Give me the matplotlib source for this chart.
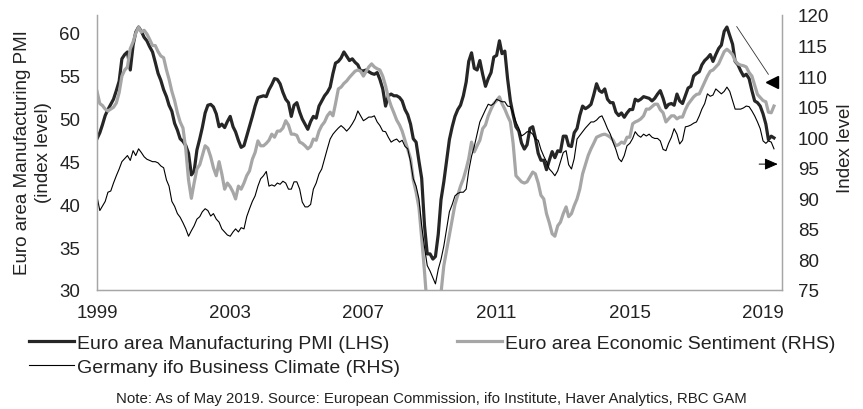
import numpy as np
import pandas as pd
import matplotlib
matplotlib.use("Agg")
import matplotlib.pyplot as plt
import matplotlib.dates as mdates

plt.rcParams['font.family'] = ['Liberation Sans', 'DejaVu Sans']

months = pd.date_range('1999-01-01', '2019-05-01', freq='MS')

# Euro area Manufacturing PMI (LHS), monthly Jan 1999 - May 2019
pmi = [
    47.6, 48.3, 49.2, 50.3, 51.0, 51.6, 52.2, 53.2, 54.3, 56.9, 57.4, 57.7,
    55.6, 58.5, 60.0, 60.6, 60.1, 59.4, 59.0, 58.3, 57.7, 56.5, 55.2, 54.4,
    53.3, 52.5, 51.5, 50.8, 49.4, 48.6, 47.6, 47.3, 46.8, 45.9, 43.4, 43.8,
    46.3, 47.6, 48.9, 50.6, 51.5, 51.6, 51.3, 50.5, 49.0, 49.3, 48.9, 49.6,
    50.2, 49.0, 48.4, 47.4, 46.6, 46.8, 47.9, 49.0, 50.2, 51.4, 52.4, 52.5,
    52.6, 52.5, 53.3, 53.9, 54.6, 54.5, 54.0, 53.0, 52.2, 51.8, 50.2, 51.5,
    51.8, 50.7, 49.9, 49.3, 48.7, 49.6, 50.2, 50.0, 51.4, 52.0, 52.6, 53.0,
    53.6, 55.2, 56.4, 56.6, 57.0, 57.7, 57.2, 56.7, 56.9, 56.5, 56.2, 55.5,
    55.5, 55.6, 55.4, 55.2, 55.1, 55.3, 54.5, 53.4, 51.4, 52.6, 52.8, 52.6,
    52.6, 52.4, 52.0, 51.0, 50.4, 49.3, 47.6, 47.2, 45.0, 43.0, 37.5, 34.2,
    34.2, 33.6, 33.9, 36.5, 40.5, 42.6, 45.0, 47.5, 49.0, 50.2, 51.0, 51.5,
    52.6, 54.2, 56.6, 57.6, 55.8, 55.6, 56.7, 55.1, 53.7, 54.6, 55.3, 57.1,
    57.3, 59.0, 57.5, 57.8, 54.6, 52.0, 50.4, 49.0, 48.5, 47.1, 46.4, 46.9,
    48.8, 49.0, 47.7, 45.9, 45.1, 45.1, 44.0, 45.1, 46.1, 45.4, 46.2, 46.1,
    47.9, 47.9, 46.8, 46.7, 48.3, 48.8, 50.3, 51.4, 51.1, 51.3, 51.6, 52.7,
    54.0, 53.2, 53.0, 53.4, 52.2, 51.8, 51.8, 50.7, 50.3, 50.6, 50.1, 50.6,
    51.0, 51.0, 52.2, 52.0, 52.2, 52.5, 52.4, 52.3, 52.0, 52.3, 52.8, 53.2,
    52.3, 51.2, 51.6, 51.7, 51.5, 52.8, 52.0, 51.7, 52.6, 53.5, 53.7, 54.9,
    55.2, 55.4, 56.2, 56.7, 57.0, 57.4, 56.6, 57.4, 58.1, 58.5, 60.1, 60.6,
    59.6, 58.6, 56.6, 56.2, 55.5, 54.9, 55.1, 54.6, 53.2, 52.0, 51.8, 51.4,
    50.5, 49.3, 47.5, 47.9, 47.7,
]

# Euro area Economic Sentiment (RHS)
esi = [
    107.5, 105.5, 105.2, 104.6, 104.3, 104.6, 104.9, 105.6, 107.3, 110.0, 111.0, 111.5,
    114.5, 115.6, 117.0, 118.0, 117.2, 117.5, 116.9, 116.0, 115.0, 115.0, 114.0, 113.3,
    113.0, 111.0, 109.5, 107.5, 106.0, 104.0, 102.5, 101.5, 98.0, 93.0, 90.0, 92.5,
    94.8, 95.5, 97.0, 98.6, 98.2, 96.8, 95.0, 93.7, 96.0, 94.0, 91.5, 92.5,
    91.9, 91.0, 89.9, 92.0, 91.5, 92.5, 93.7, 94.5, 96.4, 97.5, 99.4, 98.6,
    98.6, 99.0, 99.5, 100.5, 100.0, 101.0, 101.0, 101.5, 102.7, 102.0, 100.5, 100.5,
    100.3, 99.2, 99.0, 98.6, 98.1, 98.5, 99.7, 99.5, 101.0, 101.9, 102.5, 103.5,
    104.1, 103.5, 105.5, 107.9, 108.2, 108.8, 109.2, 109.8, 110.3, 110.8, 111.0, 110.8,
    110.0, 110.8, 111.5, 112.0, 111.5, 111.2, 111.0, 110.0, 108.4, 106.5, 105.1, 104.0,
    102.8, 102.0, 101.0, 99.5, 98.1, 96.5, 93.0, 91.0, 88.5, 83.5, 78.0, 72.0,
    68.5, 67.0, 66.5, 69.0, 74.5, 79.0, 81.5, 84.0, 86.5, 89.0, 90.5, 92.0,
    93.2, 94.8, 96.5, 99.2, 97.6, 98.6, 99.5, 101.4, 102.0, 103.5, 104.6, 105.5,
    106.0, 106.6, 105.5, 104.6, 103.5, 102.5, 99.0, 93.7, 93.2, 92.7, 92.5, 92.7,
    93.5, 94.3, 94.0, 92.5, 90.5, 89.9, 87.5, 86.0, 84.2, 83.8, 85.5, 86.1,
    87.5, 88.6, 87.0, 87.5, 88.8, 89.9, 91.5, 94.0, 95.5, 97.0, 98.1, 99.0,
    100.0, 100.2, 100.4, 100.5, 100.3, 100.0, 99.5, 98.6, 98.8, 99.2, 99.0, 100.0,
    100.0, 102.2, 102.5, 102.7, 103.0, 103.5, 104.6, 104.6, 105.0, 105.4, 105.4, 104.5,
    104.0, 102.5, 103.0, 103.5, 103.5, 103.0, 103.3, 103.3, 104.5, 105.4, 106.0, 106.6,
    107.0, 107.1, 108.0, 109.0, 110.0, 110.8, 111.0, 111.5, 112.0, 113.0, 114.0, 114.4,
    114.0, 113.5, 112.5, 112.0, 111.8, 111.7, 111.5, 110.6, 110.0, 108.5, 107.0, 106.5,
    106.0, 105.8, 104.1, 104.0, 105.1,
]

# Germany ifo Business Climate (RHS)
ifo = [
    90.3, 88.0, 88.7, 89.5, 91.0, 91.2, 92.5, 93.7, 94.8, 96.0, 96.5, 97.0,
    96.2, 97.8, 97.0, 98.1, 97.5, 96.8, 96.4, 96.2, 96.0, 96.0, 95.8, 95.3,
    95.0, 93.0, 92.0, 89.5, 88.7, 87.5, 86.9, 86.0, 85.0, 83.8, 84.7, 85.5,
    86.6, 87.0, 87.8, 88.3, 88.0, 87.1, 87.5, 86.6, 86.1, 85.0, 84.5, 84.0,
    83.8, 84.5, 85.0, 84.5, 85.2, 85.0, 87.0, 88.3, 89.5, 90.4, 92.0, 93.2,
    93.7, 94.4, 92.0, 92.2, 92.0, 92.5, 92.3, 92.8, 92.5, 91.5, 91.5, 92.7,
    92.7, 91.5, 89.4, 88.6, 88.6, 89.0, 91.5, 92.5, 94.0, 94.8, 96.5, 98.1,
    99.7, 100.5, 101.0, 101.5, 101.9, 101.5, 101.0, 101.5, 102.2, 103.0, 104.3, 103.5,
    102.7, 103.0, 103.3, 103.3, 103.5, 102.5, 101.9, 101.0, 100.9, 100.0, 99.2, 99.5,
    99.7, 99.2, 99.5, 98.5, 98.1, 96.0, 93.2, 92.0, 89.9, 85.5, 82.0, 79.0,
    78.1, 77.0, 76.0, 78.4, 80.0, 82.2, 85.0, 87.8, 89.0, 90.4, 90.8, 91.0,
    91.0, 91.5, 94.5, 96.9, 98.5, 100.5, 102.5, 103.5, 104.5, 105.4, 105.2, 105.5,
    106.2, 106.0, 105.8, 105.8, 105.1, 105.0, 104.0, 102.5, 101.5, 100.2, 100.5, 100.9,
    100.9, 100.5, 99.7, 99.5, 98.0, 96.9, 96.0, 94.8, 94.3, 93.7, 94.5, 96.0,
    97.5, 97.8, 95.5, 94.8, 96.5, 99.7, 100.3, 100.9, 101.5, 102.0, 102.5, 102.5,
    102.8, 103.3, 103.5, 102.5, 101.4, 100.5, 99.2, 98.0, 96.5, 96.0, 97.0, 98.6,
    99.0, 99.8, 100.9, 100.3, 100.0, 100.5, 100.2, 100.5, 100.0, 99.8, 99.8, 99.4,
    98.0, 97.8, 99.0, 100.0, 101.4, 100.5, 98.9, 99.5, 101.7, 101.8, 102.0, 102.3,
    102.5, 103.5, 104.6, 105.5, 107.1, 106.7, 106.9, 107.9, 107.5, 107.1, 107.5, 108.2,
    107.5, 106.0, 104.6, 104.6, 104.6, 104.8, 105.1, 105.0, 104.3, 103.5, 102.5, 101.4,
    99.4, 99.0, 99.4, 99.2, 98.1,
]

year_ticks = ['1999', '2003', '2007', '2011', '2015', '2019']
left_ticks = [30, 35, 40, 45, 50, 55, 60]
right_ticks = [75, 80, 85, 90, 95, 100, 105, 110, 115, 120]

FS = 13.5
AX_GREY = '#a6a6a6'

fig = plt.figure(figsize=(8.63, 4.10), dpi=100)
ax = fig.add_axes([97 / 863, 1 - 291 / 410, 685 / 863, 275 / 410])
ax2 = ax.twinx()

l1, = ax.plot(months, pmi, color='#262626', lw=2.3, solid_joinstyle='round')
l2, = ax2.plot(months, esi, color='#a6a6a6', lw=2.3, solid_joinstyle='round')
l3, = ax2.plot(months, ifo, color='black', lw=0.8)

ax.set_ylim(30, 62)
ax2.set_ylim(75, 120)
ax.set_xlim(pd.Timestamp('1999-01-01'), pd.Timestamp('2019-07-28'))
ax.set_xticks([pd.Timestamp(y + '-01-01') for y in year_ticks])
ax.set_xticklabels(year_ticks)
ax.set_yticks(left_ticks)
ax2.set_yticks(right_ticks)

for a in (ax, ax2):
    for s in a.spines.values():
        s.set_color(AX_GREY)
        s.set_linewidth(0.9)
    a.spines['top'].set_visible(False)
ax.tick_params(axis='y', length=0, pad=12, labelsize=FS, colors='#222222')
ax.tick_params(axis='x', length=0, pad=10, labelsize=FS, colors='#222222')
ax2.tick_params(axis='y', length=0, pad=11.5, labelsize=FS, colors='#222222')

# annotation arrows near the right edge
d = mdates.date2num
ax2.annotate('', xy=(d(pd.Timestamp('2019-03-18')), 109.9),
             xytext=(d(pd.Timestamp('2018-03-01')), 118.5),
             arrowprops=dict(arrowstyle='-', lw=0.6, color='#333333'),
             annotation_clip=False)
ax2.plot([d(pd.Timestamp('2019-04-12'))], [109.1], marker='<', ms=8,
         color='black', clip_on=False)
ax2.annotate('', xy=(d(pd.Timestamp('2019-07-12')), 95.6),
             xytext=(d(pd.Timestamp('2018-10-20')), 95.6),
             arrowprops=dict(arrowstyle='-|>,head_length=0.8,head_width=0.35',
                             lw=0.7, color='black'),
             annotation_clip=False)

fig.text(33 / 863, 1 - 153 / 410, 'Euro area Manufacturing PMI\n(index level)',
         rotation=90, ha='center', va='center', fontsize=FS, color='#222222',
         linespacing=1.35, multialignment='center')
fig.text(845 / 863, 1 - 148 / 410, 'Index level', rotation=90,
         ha='center', va='center', fontsize=FS, color='#222222')

fig.legend([l1, l3, l2],
           ['Euro area Manufacturing PMI (LHS)', 'Germany ifo Business Climate (RHS)',
            'Euro area Economic Sentiment (RHS)'],
           loc='upper left', bbox_to_anchor=(29 / 863, 1 - 335 / 410),
           ncol=2, frameon=False, fontsize=14, borderpad=0, borderaxespad=0,
           handlelength=2.3, handletextpad=0.15, labelspacing=0.33,
           columnspacing=2.95, labelcolor='#222222')

fig.text(431 / 863, 1 - 399 / 410,
         'Note: As of May 2019. Source: European Commission, ifo Institute, '
         'Haver Analytics, RBC GAM',
         ha='center', va='center', fontsize=10.8, color='#222222')

fig.savefig('out.png', dpi=100)
